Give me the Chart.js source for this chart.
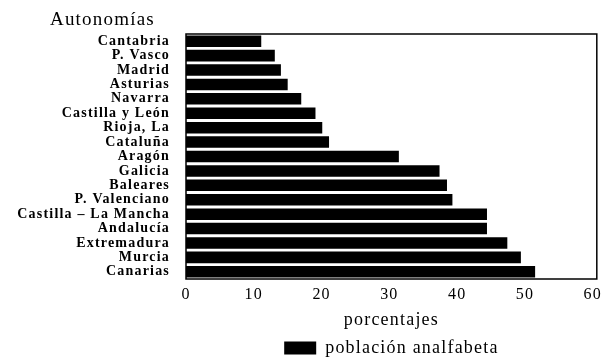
<!DOCTYPE html>
<html>
<head>
<meta charset="utf-8">
<script src="https://cdn.jsdelivr.net/npm/chart.js@4/dist/chart.umd.min.js"></script>
<style>
  html, body { margin: 0; padding: 0; background: #fff; }
  #wrap { width: 608px; height: 359px; }
</style>
</head>
<body>
<div id="wrap"><canvas id="grafico"></canvas></div>
<script>
// Datos
const autonomias = [
  'Cantabria', 'P. Vasco', 'Madrid', 'Asturias', 'Navarra', 'Castilla y León',
  'Rioja, La', 'Cataluña', 'Aragón', 'Galicia', 'Baleares', 'P. Valenciano',
  'Castilla – La Mancha', 'Andalucía', 'Extremadura', 'Murcia', 'Canarias'
];
const analfabetos = [
  11.1, 13.1, 14.0, 15.0, 17.0, 19.1,
  20.1, 21.1, 31.4, 37.4, 38.5, 39.3,
  44.4, 44.4, 47.4, 49.4, 51.5
];
const marcasX = [0, 10, 20, 30, 40, 50, 60];

const serif = "'Liberation Serif', 'Times New Roman', 'DejaVu Serif', serif";
Chart.defaults.font.family = serif;
Chart.defaults.color = '#000';

// espaciado de letras como en el impreso
const espaciado = {
  id: 'espaciado',
  beforeUpdate(chart) { chart.ctx.letterSpacing = '1.2px'; },
  beforeDraw(chart) { chart.ctx.letterSpacing = '1.2px'; }
};

// marco del área y título del eje de categorías
const marco = {
  id: 'marco',
  afterDatasetsDraw(chart) {
    const { ctx, chartArea: a } = chart;
    ctx.save();
    ctx.strokeStyle = '#000';
    ctx.lineWidth = 1.5;
    ctx.strokeRect(a.left, a.top, a.right - a.left, a.bottom - a.top);
    ctx.fillStyle = '#000';
    ctx.font = '19px ' + serif;
    ctx.textAlign = 'left';
    ctx.textBaseline = 'alphabetic';
    ctx.fillText('Autonomías', 50, 25);
    ctx.restore();
  }
};

new Chart(document.getElementById('grafico'), {
  type: 'bar',
  data: {
    labels: autonomias,
    datasets: [{
      label: 'población analfabeta',
      data: analfabetos,
      backgroundColor: '#000',
      borderWidth: 0,
      barPercentage: 0.8,
      categoryPercentage: 1
    }]
  },
  options: {
    indexAxis: 'y',
    responsive: true,
    maintainAspectRatio: false,
    animation: false,
    layout: { padding: { top: 34, right: 6, left: 0, bottom: -8 } },
    plugins: {
      tooltip: { enabled: false },
      legend: {
        position: 'bottom',
        fullSize: false,
        labels: {
          boxWidth: 32,
          boxHeight: 13,
          padding: 2,
          font: { size: 18 }
        }
      }
    },
    scales: {
      x: {
        min: 0,
        max: 60.6,
        afterBuildTicks(scale) { scale.ticks = marcasX.map(v => ({ value: v })); },
        afterFit(scale) { scale.height = 58; },
        grid: { display: false, drawTicks: false },
        border: { display: false },
        ticks: { padding: 6, font: { size: 16 } },
        title: {
          display: true,
          text: 'porcentajes',
          font: { size: 18 },
          padding: { top: 0, bottom: 6 }
        }
      },
      y: {
        afterFit(scale) { scale.width = 186; },
        grid: { display: false, drawTicks: false },
        border: { display: false },
        ticks: {
          autoSkip: false,
          padding: 16,
          font: { size: 14, weight: 'bold' }
        }
      }
    }
  },
  plugins: [espaciado, marco]
});
</script>
</body>
</html>
